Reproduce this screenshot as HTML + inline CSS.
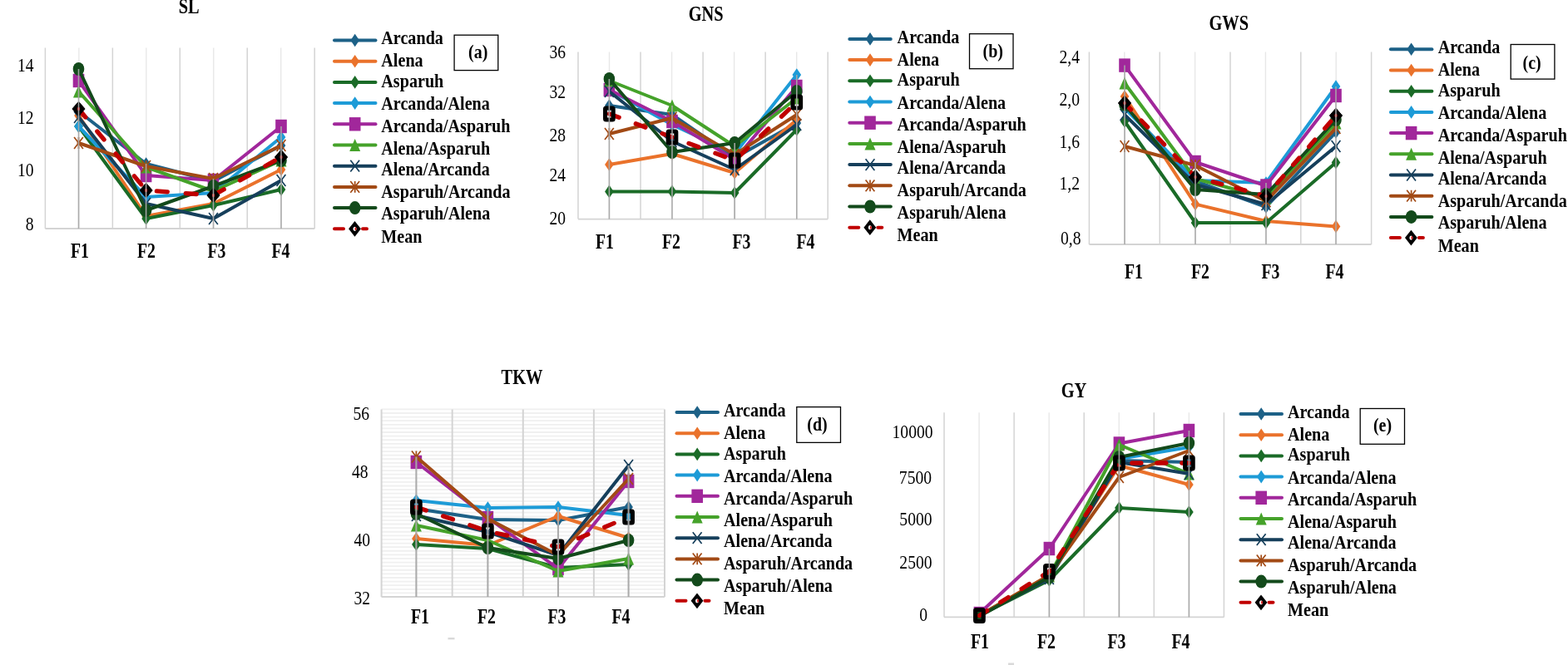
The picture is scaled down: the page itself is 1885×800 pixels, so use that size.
<!DOCTYPE html>
<html lang="en">
<head>
<meta charset="utf-8">
<title>Trait means by environment</title>
<style>
html,body{margin:0;padding:0;background:#fff;}
body{width:1885px;height:800px;overflow:hidden;font-family:"Liberation Serif",serif;}
svg{display:block;}
</style>
</head>
<body>
<svg width="1885" height="800" viewBox="0 0 1885 800" font-family="'Liberation Serif', serif">
<defs><filter id="soft" x="0" y="0" width="100%" height="100%" filterUnits="userSpaceOnUse" color-interpolation-filters="sRGB"><feGaussianBlur stdDeviation="0.55"/></filter></defs>
<rect width="1885" height="800" fill="#fff"/>
<g filter="url(#soft)">
<g>
<path d="M94.88 57.5V275M175.83 57.5V275M256.77 57.5V275M337.72 57.5V275" stroke="#e8e8e8" stroke-width="1.4" fill="none"/>
<path d="M54.4 57.5V275M135.35 57.5V275M216.3 57.5V275M297.25 57.5V275M378.2 57.5V275" stroke="#d4d4d4" stroke-width="1.5" fill="none"/>
<path d="M54.4 275H378.2" stroke="#d4d4d4" stroke-width="1.8" fill="none"/>
<polyline points="94.5,134 175.6,197 256.5,218 338,175" fill="none" stroke="#1d6187" stroke-width="4.0" stroke-linejoin="round" stroke-linecap="round"/>
<path d="M94.5 126.2L99.8 134L94.5 141.8L89.2 134Z" fill="#1d6187"/>
<path d="M175.6 189.2L180.9 197L175.6 204.8L170.3 197Z" fill="#1d6187"/>
<path d="M256.5 210.2L261.8 218L256.5 225.8L251.2 218Z" fill="#1d6187"/>
<path d="M338 167.2L343.3 175L338 182.8L332.7 175Z" fill="#1d6187"/>
<polyline points="94.5,139 175.6,260 256.5,245 338,204" fill="none" stroke="#ea722b" stroke-width="4.0" stroke-linejoin="round" stroke-linecap="round"/>
<path d="M94.5 131.2L99.8 139L94.5 146.8L89.2 139Z" fill="#ea722b"/>
<path d="M175.6 252.2L180.9 260L175.6 267.8L170.3 260Z" fill="#ea722b"/>
<path d="M256.5 237.2L261.8 245L256.5 252.8L251.2 245Z" fill="#ea722b"/>
<path d="M338 196.2L343.3 204L338 211.8L332.7 204Z" fill="#ea722b"/>
<polyline points="94.5,152 175.6,263 256.5,247 338,228" fill="none" stroke="#1a6b27" stroke-width="4.0" stroke-linejoin="round" stroke-linecap="round"/>
<path d="M94.5 144.2L99.8 152L94.5 159.8L89.2 152Z" fill="#1a6b27"/>
<path d="M175.6 255.2L180.9 263L175.6 270.8L170.3 263Z" fill="#1a6b27"/>
<path d="M256.5 239.2L261.8 247L256.5 254.8L251.2 247Z" fill="#1a6b27"/>
<path d="M338 220.2L343.3 228L338 235.8L332.7 228Z" fill="#1a6b27"/>
<polyline points="94.5,152 175.6,237 256.5,232 338,165" fill="none" stroke="#1d9bd7" stroke-width="4.0" stroke-linejoin="round" stroke-linecap="round"/>
<path d="M94.5 144.2L99.8 152L94.5 159.8L89.2 152Z" fill="#1d9bd7"/>
<path d="M175.6 229.2L180.9 237L175.6 244.8L170.3 237Z" fill="#1d9bd7"/>
<path d="M256.5 224.2L261.8 232L256.5 239.8L251.2 232Z" fill="#1d9bd7"/>
<path d="M338 157.2L343.3 165L338 172.8L332.7 165Z" fill="#1d9bd7"/>
<polyline points="94.5,97 175.6,211 256.5,217 338,152" fill="none" stroke="#a1279b" stroke-width="4.0" stroke-linejoin="round" stroke-linecap="round"/>
<rect x="87.7" y="88.8" width="13.6" height="16.4" fill="#a1279b"/>
<rect x="168.8" y="202.8" width="13.6" height="16.4" fill="#a1279b"/>
<rect x="249.7" y="208.8" width="13.6" height="16.4" fill="#a1279b"/>
<rect x="331.2" y="143.8" width="13.6" height="16.4" fill="#a1279b"/>
<polyline points="94.5,110 175.6,201 256.5,230 338,193" fill="none" stroke="#45a22a" stroke-width="4.0" stroke-linejoin="round" stroke-linecap="round"/>
<path d="M94.5 102.5L101 117.5L88 117.5Z" fill="#45a22a"/>
<path d="M175.6 193.5L182.1 208.5L169.1 208.5Z" fill="#45a22a"/>
<path d="M256.5 222.5L263 237.5L250 237.5Z" fill="#45a22a"/>
<path d="M338 185.5L344.5 200.5L331.5 200.5Z" fill="#45a22a"/>
<polyline points="94.5,141 175.6,245 256.5,263 338,217" fill="none" stroke="#163f5b" stroke-width="4.0" stroke-linejoin="round" stroke-linecap="round"/>
<path d="M89.1 134.1L99.9 147.9M99.9 134.1L89.1 147.9" stroke="#163f5b" stroke-width="1.7" fill="none"/>
<path d="M170.2 238.1L181 251.9M181 238.1L170.2 251.9" stroke="#163f5b" stroke-width="1.7" fill="none"/>
<path d="M251.1 256.1L261.9 269.9M261.9 256.1L251.1 269.9" stroke="#163f5b" stroke-width="1.7" fill="none"/>
<path d="M332.6 210.1L343.4 223.9M343.4 210.1L332.6 223.9" stroke="#163f5b" stroke-width="1.7" fill="none"/>
<polyline points="94.5,172 175.6,200 256.5,215 338,175" fill="none" stroke="#a24a15" stroke-width="4.0" stroke-linejoin="round" stroke-linecap="round"/>
<path d="M89.1 165.1L99.9 178.9M99.9 165.1L89.1 178.9M94.5 165.1L94.5 178.9" stroke="#a24a15" stroke-width="1.7" fill="none"/>
<path d="M170.2 193.1L181 206.9M181 193.1L170.2 206.9M175.6 193.1L175.6 206.9" stroke="#a24a15" stroke-width="1.7" fill="none"/>
<path d="M251.1 208.1L261.9 221.9M261.9 208.1L251.1 221.9M256.5 208.1L256.5 221.9" stroke="#a24a15" stroke-width="1.7" fill="none"/>
<path d="M332.6 168.1L343.4 181.9M343.4 168.1L332.6 181.9M338 168.1L338 181.9" stroke="#a24a15" stroke-width="1.7" fill="none"/>
<polyline points="94.5,83 175.6,253 256.5,224 338,193" fill="none" stroke="#134a1b" stroke-width="4.0" stroke-linejoin="round" stroke-linecap="round"/>
<ellipse cx="94.5" cy="83" rx="6.8" ry="8" fill="#134a1b"/>
<ellipse cx="175.6" cy="253" rx="6.8" ry="8" fill="#134a1b"/>
<ellipse cx="256.5" cy="224" rx="6.8" ry="8" fill="#134a1b"/>
<ellipse cx="338" cy="193" rx="6.8" ry="8" fill="#134a1b"/>
<polyline points="94.5,131 175.6,229 256.5,235 338,189" fill="none" stroke="#c00000" stroke-width="5.3" stroke-dasharray="13 22" stroke-linecap="round"/>
<path d="M94.5 122.2L102.1 131L94.5 139.8L86.9 131Z" fill="#000" stroke="#000" stroke-width="1" stroke-linejoin="round"/><ellipse cx="94.5" cy="131" rx="1.6" ry="2.2" fill="#d81818"/>
<path d="M175.6 220.2L183.2 229L175.6 237.8L168 229Z" fill="#000" stroke="#000" stroke-width="1" stroke-linejoin="round"/><ellipse cx="175.6" cy="229" rx="1.6" ry="2.2" fill="#d81818"/>
<path d="M256.5 226.2L264.1 235L256.5 243.8L248.9 235Z" fill="#000" stroke="#000" stroke-width="1" stroke-linejoin="round"/><ellipse cx="256.5" cy="235" rx="1.6" ry="2.2" fill="#d81818"/>
<path d="M338 180.2L345.6 189L338 197.8L330.4 189Z" fill="#000" stroke="#000" stroke-width="1" stroke-linejoin="round"/><ellipse cx="338" cy="189" rx="1.6" ry="2.2" fill="#d81818"/>
<path d="M94.5 83V275" stroke="#a8a8a8" stroke-width="1.6" fill="none" opacity="0.95"/>
<path d="M175.6 197V275" stroke="#a8a8a8" stroke-width="1.6" fill="none" opacity="0.95"/>
<path d="M256.5 215V275" stroke="#a8a8a8" stroke-width="1.6" fill="none" opacity="0.95"/>
<path d="M338 152V275" stroke="#a8a8a8" stroke-width="1.6" fill="none" opacity="0.95"/>
<text transform="translate(227.2 15.6) scale(1 1.2)" font-size="20.4" font-weight="bold" text-anchor="middle" fill="#000">SL</text>
<text transform="translate(40.5 86) scale(1 1.2)" font-size="19.6" text-anchor="end" fill="#000">14</text>
<text transform="translate(40.5 149) scale(1 1.2)" font-size="19.6" text-anchor="end" fill="#000">12</text>
<text transform="translate(40.5 212) scale(1 1.2)" font-size="19.6" text-anchor="end" fill="#000">10</text>
<text transform="translate(40.5 277) scale(1 1.2)" font-size="19.6" text-anchor="end" fill="#000">8</text>
<text transform="translate(96 310) scale(1 1.22)" font-size="19.8" font-weight="bold" text-anchor="middle" fill="#000">F1</text>
<text transform="translate(176 310) scale(1 1.22)" font-size="19.8" font-weight="bold" text-anchor="middle" fill="#000">F2</text>
<text transform="translate(260.5 310) scale(1 1.22)" font-size="19.8" font-weight="bold" text-anchor="middle" fill="#000">F3</text>
<text transform="translate(337.5 310) scale(1 1.22)" font-size="19.8" font-weight="bold" text-anchor="middle" fill="#000">F4</text>
<path d="M402 48.5H451.5" stroke="#1d6187" stroke-width="4.0" stroke-linecap="round" fill="none"/>
<path d="M426.7 40.7L432 48.5L426.7 56.3L421.4 48.5Z" fill="#1d6187"/>
<text transform="translate(458.3 53.2) scale(1 1.15)" font-size="20.15" font-weight="bold" fill="#000">Arcanda</text>
<path d="M402 73.7H451.5" stroke="#ea722b" stroke-width="4.0" stroke-linecap="round" fill="none"/>
<path d="M426.7 65.9L432 73.7L426.7 81.5L421.4 73.7Z" fill="#ea722b"/>
<text transform="translate(458.3 80.3) scale(1 1.15)" font-size="20.15" font-weight="bold" fill="#000">Alena</text>
<path d="M402 98.9H451.5" stroke="#1a6b27" stroke-width="4.0" stroke-linecap="round" fill="none"/>
<path d="M426.7 91.1L432 98.9L426.7 106.7L421.4 98.9Z" fill="#1a6b27"/>
<text transform="translate(458.3 104.9) scale(1 1.15)" font-size="20.15" font-weight="bold" fill="#000">Asparuh</text>
<path d="M402 124.1H451.5" stroke="#1d9bd7" stroke-width="4.0" stroke-linecap="round" fill="none"/>
<path d="M426.7 116.3L432 124.1L426.7 131.9L421.4 124.1Z" fill="#1d9bd7"/>
<text transform="translate(458.3 132.2) scale(1 1.15)" font-size="20.15" font-weight="bold" fill="#000">Arcanda/Alena</text>
<path d="M402 149.3H451.5" stroke="#a1279b" stroke-width="4.0" stroke-linecap="round" fill="none"/>
<rect x="419.9" y="141.1" width="13.6" height="16.4" fill="#a1279b"/>
<text transform="translate(458.3 158.8) scale(1 1.15)" font-size="20.15" font-weight="bold" fill="#000">Arcanda/Asparuh</text>
<path d="M402 174.5H451.5" stroke="#45a22a" stroke-width="4.0" stroke-linecap="round" fill="none"/>
<path d="M426.7 167L433.2 182L420.2 182Z" fill="#45a22a"/>
<text transform="translate(458.3 185.5) scale(1 1.15)" font-size="20.15" font-weight="bold" fill="#000">Alena/Asparuh</text>
<path d="M402 199.7H451.5" stroke="#163f5b" stroke-width="4.0" stroke-linecap="round" fill="none"/>
<path d="M421.3 192.8L432.1 206.6M432.1 192.8L421.3 206.6" stroke="#163f5b" stroke-width="1.7" fill="none"/>
<text transform="translate(458.3 210.6) scale(1 1.15)" font-size="20.15" font-weight="bold" fill="#000">Alena/Arcanda</text>
<path d="M402 224.9H451.5" stroke="#a24a15" stroke-width="4.0" stroke-linecap="round" fill="none"/>
<path d="M421.3 218L432.1 231.8M432.1 218L421.3 231.8M426.7 218L426.7 231.8" stroke="#a24a15" stroke-width="1.7" fill="none"/>
<text transform="translate(458.3 237.5) scale(1 1.15)" font-size="20.15" font-weight="bold" fill="#000">Asparuh/Arcanda</text>
<path d="M402 250.1H451.5" stroke="#134a1b" stroke-width="4.0" stroke-linecap="round" fill="none"/>
<ellipse cx="426.7" cy="250.1" rx="6.8" ry="8" fill="#134a1b"/>
<text transform="translate(458.3 264.3) scale(1 1.15)" font-size="20.15" font-weight="bold" fill="#000">Asparuh/Alena</text>
<path d="M402 275.3H413M436 275.3H441" stroke="#c00000" stroke-width="4" stroke-linecap="round" fill="none"/>
<path d="M426.5 265.9L433.9 275.3L426.5 284.7L419.1 275.3Z" fill="#000"/>
<ellipse cx="426.5" cy="275.3" rx="2" ry="2.6" fill="#fff"/>
<ellipse cx="427.5" cy="275.3" rx="1" ry="2" fill="#d81818"/>
<text transform="translate(458.3 291.5) scale(1 1.15)" font-size="20.15" font-weight="bold" fill="#000">Mean</text>
<rect x="546.1" y="42.2" width="52.7" height="42.4" fill="#fff" stroke="#000" stroke-width="1.3"/>
<text transform="translate(574.7 69.5) scale(1 1.15)" font-size="20" font-weight="bold" text-anchor="middle" fill="#000">(a)</text>
</g>
<g>
<path d="M732.52 62.4V263.6M807.58 62.4V263.6M882.62 62.4V263.6M957.68 62.4V263.6" stroke="#e8e8e8" stroke-width="1.4" fill="none"/>
<path d="M695 62.4V263.6M770.05 62.4V263.6M845.1 62.4V263.6M920.15 62.4V263.6M995.2 62.4V263.6" stroke="#d4d4d4" stroke-width="1.5" fill="none"/>
<path d="M695 263.6H995.2" stroke="#d4d4d4" stroke-width="1.8" fill="none"/>
<polyline points="732.4,127 808,138 883.2,190 957.8,148" fill="none" stroke="#1d6187" stroke-width="4.0" stroke-linejoin="round" stroke-linecap="round"/>
<path d="M732.4 119.2L737.7 127L732.4 134.8L727.1 127Z" fill="#1d6187"/>
<path d="M808 130.2L813.3 138L808 145.8L802.7 138Z" fill="#1d6187"/>
<path d="M883.2 182.2L888.5 190L883.2 197.8L877.9 190Z" fill="#1d6187"/>
<path d="M957.8 140.2L963.1 148L957.8 155.8L952.5 148Z" fill="#1d6187"/>
<polyline points="732.4,198 808,185 883.2,208 957.8,144" fill="none" stroke="#ea722b" stroke-width="4.0" stroke-linejoin="round" stroke-linecap="round"/>
<path d="M732.4 190.2L737.7 198L732.4 205.8L727.1 198Z" fill="#ea722b"/>
<path d="M808 177.2L813.3 185L808 192.8L802.7 185Z" fill="#ea722b"/>
<path d="M883.2 200.2L888.5 208L883.2 215.8L877.9 208Z" fill="#ea722b"/>
<path d="M957.8 136.2L963.1 144L957.8 151.8L952.5 144Z" fill="#ea722b"/>
<polyline points="732.4,230.4 808,230.4 883.2,232 957.8,156" fill="none" stroke="#1a6b27" stroke-width="4.0" stroke-linejoin="round" stroke-linecap="round"/>
<path d="M732.4 222.6L737.7 230.4L732.4 238.2L727.1 230.4Z" fill="#1a6b27"/>
<path d="M808 222.6L813.3 230.4L808 238.2L802.7 230.4Z" fill="#1a6b27"/>
<path d="M883.2 224.2L888.5 232L883.2 239.8L877.9 232Z" fill="#1a6b27"/>
<path d="M957.8 148.2L963.1 156L957.8 163.8L952.5 156Z" fill="#1a6b27"/>
<polyline points="732.4,108 808,150 883.2,185 957.8,90" fill="none" stroke="#1d9bd7" stroke-width="4.0" stroke-linejoin="round" stroke-linecap="round"/>
<path d="M732.4 100.2L737.7 108L732.4 115.8L727.1 108Z" fill="#1d9bd7"/>
<path d="M808 142.2L813.3 150L808 157.8L802.7 150Z" fill="#1d9bd7"/>
<path d="M883.2 177.2L888.5 185L883.2 192.8L877.9 185Z" fill="#1d9bd7"/>
<path d="M957.8 82.2L963.1 90L957.8 97.8L952.5 90Z" fill="#1d9bd7"/>
<polyline points="732.4,108 808,146 883.2,192 957.8,104" fill="none" stroke="#a1279b" stroke-width="4.0" stroke-linejoin="round" stroke-linecap="round"/>
<rect x="725.6" y="99.8" width="13.6" height="16.4" fill="#a1279b"/>
<rect x="801.2" y="137.8" width="13.6" height="16.4" fill="#a1279b"/>
<rect x="876.4" y="183.8" width="13.6" height="16.4" fill="#a1279b"/>
<rect x="951" y="95.8" width="13.6" height="16.4" fill="#a1279b"/>
<polyline points="732.4,97 808,127 883.2,176 957.8,118" fill="none" stroke="#45a22a" stroke-width="4.0" stroke-linejoin="round" stroke-linecap="round"/>
<path d="M732.4 89.5L738.9 104.5L725.9 104.5Z" fill="#45a22a"/>
<path d="M808 119.5L814.5 134.5L801.5 134.5Z" fill="#45a22a"/>
<path d="M883.2 168.5L889.7 183.5L876.7 183.5Z" fill="#45a22a"/>
<path d="M957.8 110.5L964.3 125.5L951.3 125.5Z" fill="#45a22a"/>
<polyline points="732.4,110 808,170 883.2,204 957.8,150" fill="none" stroke="#163f5b" stroke-width="4.0" stroke-linejoin="round" stroke-linecap="round"/>
<path d="M727 103.1L737.8 116.9M737.8 103.1L727 116.9" stroke="#163f5b" stroke-width="1.7" fill="none"/>
<path d="M802.6 163.1L813.4 176.9M813.4 163.1L802.6 176.9" stroke="#163f5b" stroke-width="1.7" fill="none"/>
<path d="M877.8 197.1L888.6 210.9M888.6 197.1L877.8 210.9" stroke="#163f5b" stroke-width="1.7" fill="none"/>
<path d="M952.4 143.1L963.2 156.9M963.2 143.1L952.4 156.9" stroke="#163f5b" stroke-width="1.7" fill="none"/>
<polyline points="732.4,161 808,142 883.2,186 957.8,138" fill="none" stroke="#a24a15" stroke-width="4.0" stroke-linejoin="round" stroke-linecap="round"/>
<path d="M727 154.1L737.8 167.9M737.8 154.1L727 167.9M732.4 154.1L732.4 167.9" stroke="#a24a15" stroke-width="1.7" fill="none"/>
<path d="M802.6 135.1L813.4 148.9M813.4 135.1L802.6 148.9M808 135.1L808 148.9" stroke="#a24a15" stroke-width="1.7" fill="none"/>
<path d="M877.8 179.1L888.6 192.9M888.6 179.1L877.8 192.9M883.2 179.1L883.2 192.9" stroke="#a24a15" stroke-width="1.7" fill="none"/>
<path d="M952.4 131.1L963.2 144.9M963.2 131.1L952.4 144.9M957.8 131.1L957.8 144.9" stroke="#a24a15" stroke-width="1.7" fill="none"/>
<polyline points="732.4,95 808,183 883.2,172 957.8,110" fill="none" stroke="#134a1b" stroke-width="4.0" stroke-linejoin="round" stroke-linecap="round"/>
<ellipse cx="732.4" cy="95" rx="6.8" ry="8" fill="#134a1b"/>
<ellipse cx="808" cy="183" rx="6.8" ry="8" fill="#134a1b"/>
<ellipse cx="883.2" cy="172" rx="6.8" ry="8" fill="#134a1b"/>
<ellipse cx="957.8" cy="110" rx="6.8" ry="8" fill="#134a1b"/>
<polyline points="732.4,137 808,165 883.2,193 957.8,123" fill="none" stroke="#c00000" stroke-width="5.3" stroke-dasharray="12.5 21.5" stroke-linecap="round"/>
<rect x="727.6" y="130" width="9.6" height="14" rx="1" fill="none" stroke="#000" stroke-width="5.1"/>
<rect x="803.2" y="158" width="9.6" height="14" rx="1" fill="none" stroke="#000" stroke-width="5.1"/>
<rect x="878.4" y="186" width="9.6" height="14" rx="1" fill="none" stroke="#000" stroke-width="5.1"/>
<rect x="953" y="116" width="9.6" height="14" rx="1" fill="none" stroke="#000" stroke-width="5.1"/>
<path d="M732.4 95V263.6" stroke="#a8a8a8" stroke-width="1.6" fill="none" opacity="0.95"/>
<path d="M808 127V263.6" stroke="#a8a8a8" stroke-width="1.6" fill="none" opacity="0.95"/>
<path d="M883.2 172V263.6" stroke="#a8a8a8" stroke-width="1.6" fill="none" opacity="0.95"/>
<path d="M957.8 90V263.6" stroke="#a8a8a8" stroke-width="1.6" fill="none" opacity="0.95"/>
<text transform="translate(848.7 25) scale(1 1.2)" font-size="20.4" font-weight="bold" text-anchor="middle" fill="#000">GNS</text>
<text transform="translate(680 70) scale(1 1.2)" font-size="19.6" text-anchor="end" fill="#000">36</text>
<text transform="translate(680 118.2) scale(1 1.2)" font-size="19.6" text-anchor="end" fill="#000">32</text>
<text transform="translate(680 170) scale(1 1.2)" font-size="19.6" text-anchor="end" fill="#000">28</text>
<text transform="translate(680 218) scale(1 1.2)" font-size="19.6" text-anchor="end" fill="#000">24</text>
<text transform="translate(680 270) scale(1 1.2)" font-size="19.6" text-anchor="end" fill="#000">20</text>
<text transform="translate(727 299) scale(1 1.22)" font-size="19.8" font-weight="bold" text-anchor="middle" fill="#000">F1</text>
<text transform="translate(807 299) scale(1 1.22)" font-size="19.8" font-weight="bold" text-anchor="middle" fill="#000">F2</text>
<text transform="translate(891.5 299) scale(1 1.22)" font-size="19.8" font-weight="bold" text-anchor="middle" fill="#000">F3</text>
<text transform="translate(968.5 299) scale(1 1.22)" font-size="19.8" font-weight="bold" text-anchor="middle" fill="#000">F4</text>
<path d="M1021.3 46.9H1070.8" stroke="#1d6187" stroke-width="4.0" stroke-linecap="round" fill="none"/>
<path d="M1046 39.1L1051.3 46.9L1046 54.7L1040.7 46.9Z" fill="#1d6187"/>
<text transform="translate(1078.6 51.7) scale(1 1.15)" font-size="20.15" font-weight="bold" fill="#000">Arcanda</text>
<path d="M1021.3 72.1H1070.8" stroke="#ea722b" stroke-width="4.0" stroke-linecap="round" fill="none"/>
<path d="M1046 64.3L1051.3 72.1L1046 79.9L1040.7 72.1Z" fill="#ea722b"/>
<text transform="translate(1078.6 78.8) scale(1 1.15)" font-size="20.15" font-weight="bold" fill="#000">Alena</text>
<path d="M1021.3 97.3H1070.8" stroke="#1a6b27" stroke-width="4.0" stroke-linecap="round" fill="none"/>
<path d="M1046 89.5L1051.3 97.3L1046 105.1L1040.7 97.3Z" fill="#1a6b27"/>
<text transform="translate(1078.6 103.4) scale(1 1.15)" font-size="20.15" font-weight="bold" fill="#000">Asparuh</text>
<path d="M1021.3 122.5H1070.8" stroke="#1d9bd7" stroke-width="4.0" stroke-linecap="round" fill="none"/>
<path d="M1046 114.7L1051.3 122.5L1046 130.3L1040.7 122.5Z" fill="#1d9bd7"/>
<text transform="translate(1078.6 130.7) scale(1 1.15)" font-size="20.15" font-weight="bold" fill="#000">Arcanda/Alena</text>
<path d="M1021.3 147.7H1070.8" stroke="#a1279b" stroke-width="4.0" stroke-linecap="round" fill="none"/>
<rect x="1039.2" y="139.5" width="13.6" height="16.4" fill="#a1279b"/>
<text transform="translate(1078.6 157.3) scale(1 1.15)" font-size="20.15" font-weight="bold" fill="#000">Arcanda/Asparuh</text>
<path d="M1021.3 172.9H1070.8" stroke="#45a22a" stroke-width="4.0" stroke-linecap="round" fill="none"/>
<path d="M1046 165.4L1052.5 180.4L1039.5 180.4Z" fill="#45a22a"/>
<text transform="translate(1078.6 184) scale(1 1.15)" font-size="20.15" font-weight="bold" fill="#000">Alena/Asparuh</text>
<path d="M1021.3 198.1H1070.8" stroke="#163f5b" stroke-width="4.0" stroke-linecap="round" fill="none"/>
<path d="M1040.6 191.2L1051.4 205M1051.4 191.2L1040.6 205" stroke="#163f5b" stroke-width="1.7" fill="none"/>
<text transform="translate(1078.6 209.1) scale(1 1.15)" font-size="20.15" font-weight="bold" fill="#000">Alena/Arcanda</text>
<path d="M1021.3 223.3H1070.8" stroke="#a24a15" stroke-width="4.0" stroke-linecap="round" fill="none"/>
<path d="M1040.6 216.4L1051.4 230.2M1051.4 216.4L1040.6 230.2M1046 216.4L1046 230.2" stroke="#a24a15" stroke-width="1.7" fill="none"/>
<text transform="translate(1078.6 236) scale(1 1.15)" font-size="20.15" font-weight="bold" fill="#000">Asparuh/Arcanda</text>
<path d="M1021.3 248.5H1070.8" stroke="#134a1b" stroke-width="4.0" stroke-linecap="round" fill="none"/>
<ellipse cx="1046" cy="248.5" rx="6.8" ry="8" fill="#134a1b"/>
<text transform="translate(1078.6 262.8) scale(1 1.15)" font-size="20.15" font-weight="bold" fill="#000">Asparuh/Alena</text>
<path d="M1021.3 273.7H1032.3M1055.3 273.7H1060.3" stroke="#c00000" stroke-width="4" stroke-linecap="round" fill="none"/>
<path d="M1045.8 264.3L1053.2 273.7L1045.8 283.1L1038.4 273.7Z" fill="#000"/>
<ellipse cx="1045.8" cy="273.7" rx="2" ry="2.6" fill="#fff"/>
<ellipse cx="1046.8" cy="273.7" rx="1" ry="2" fill="#d81818"/>
<text transform="translate(1078.6 290) scale(1 1.15)" font-size="20.15" font-weight="bold" fill="#000">Mean</text>
<rect x="1165.5" y="40.7" width="52.5" height="42" fill="#fff" stroke="#000" stroke-width="1.3"/>
<text transform="translate(1193.8 68.9) scale(1 1.15)" font-size="20" font-weight="bold" text-anchor="middle" fill="#000">(b)</text>
</g>
<g>
<path d="M1351.8 62.4V294M1436.6 62.4V294M1521.4 62.4V294M1606.2 62.4V294" stroke="#e8e8e8" stroke-width="1.4" fill="none"/>
<path d="M1309.4 62.4V294M1394.2 62.4V294M1479 62.4V294M1563.8 62.4V294M1648.6 62.4V294" stroke="#d4d4d4" stroke-width="1.5" fill="none"/>
<path d="M1309.4 294H1648.6" stroke="#d4d4d4" stroke-width="1.8" fill="none"/>
<polyline points="1352,128 1437,218 1522,249 1606,159" fill="none" stroke="#1d6187" stroke-width="4.0" stroke-linejoin="round" stroke-linecap="round"/>
<path d="M1352 120.2L1357.3 128L1352 135.8L1346.7 128Z" fill="#1d6187"/>
<path d="M1437 210.2L1442.3 218L1437 225.8L1431.7 218Z" fill="#1d6187"/>
<path d="M1522 241.2L1527.3 249L1522 256.8L1516.7 249Z" fill="#1d6187"/>
<path d="M1606 151.2L1611.3 159L1606 166.8L1600.7 159Z" fill="#1d6187"/>
<polyline points="1352,116 1437,245.6 1522,266 1606,272.4" fill="none" stroke="#ea722b" stroke-width="4.0" stroke-linejoin="round" stroke-linecap="round"/>
<path d="M1352 108.2L1357.3 116L1352 123.8L1346.7 116Z" fill="#ea722b"/>
<path d="M1437 237.8L1442.3 245.6L1437 253.4L1431.7 245.6Z" fill="#ea722b"/>
<path d="M1522 258.2L1527.3 266L1522 273.8L1516.7 266Z" fill="#ea722b"/>
<path d="M1606 264.6L1611.3 272.4L1606 280.2L1600.7 272.4Z" fill="#ea722b"/>
<polyline points="1352,146 1437,268 1522,268 1606,195.6" fill="none" stroke="#1a6b27" stroke-width="4.0" stroke-linejoin="round" stroke-linecap="round"/>
<path d="M1352 138.2L1357.3 146L1352 153.8L1346.7 146Z" fill="#1a6b27"/>
<path d="M1437 260.2L1442.3 268L1437 275.8L1431.7 268Z" fill="#1a6b27"/>
<path d="M1522 260.2L1527.3 268L1522 275.8L1516.7 268Z" fill="#1a6b27"/>
<path d="M1606 187.8L1611.3 195.6L1606 203.4L1600.7 195.6Z" fill="#1a6b27"/>
<polyline points="1352,130 1437,217 1522,220 1606,104" fill="none" stroke="#1d9bd7" stroke-width="4.0" stroke-linejoin="round" stroke-linecap="round"/>
<path d="M1352 122.2L1357.3 130L1352 137.8L1346.7 130Z" fill="#1d9bd7"/>
<path d="M1437 209.2L1442.3 217L1437 224.8L1431.7 217Z" fill="#1d9bd7"/>
<path d="M1522 212.2L1527.3 220L1522 227.8L1516.7 220Z" fill="#1d9bd7"/>
<path d="M1606 96.2L1611.3 104L1606 111.8L1600.7 104Z" fill="#1d9bd7"/>
<polyline points="1352,78.6 1437,195 1522,223.5 1606,115" fill="none" stroke="#a1279b" stroke-width="4.0" stroke-linejoin="round" stroke-linecap="round"/>
<rect x="1345.2" y="70.4" width="13.6" height="16.4" fill="#a1279b"/>
<rect x="1430.2" y="186.8" width="13.6" height="16.4" fill="#a1279b"/>
<rect x="1515.2" y="215.3" width="13.6" height="16.4" fill="#a1279b"/>
<rect x="1599.2" y="106.8" width="13.6" height="16.4" fill="#a1279b"/>
<polyline points="1352,100 1437,215 1522,238 1606,148" fill="none" stroke="#45a22a" stroke-width="4.0" stroke-linejoin="round" stroke-linecap="round"/>
<path d="M1352 92.5L1358.5 107.5L1345.5 107.5Z" fill="#45a22a"/>
<path d="M1437 207.5L1443.5 222.5L1430.5 222.5Z" fill="#45a22a"/>
<path d="M1522 230.5L1528.5 245.5L1515.5 245.5Z" fill="#45a22a"/>
<path d="M1606 140.5L1612.5 155.5L1599.5 155.5Z" fill="#45a22a"/>
<polyline points="1352,138 1437,222 1522,246 1606,176" fill="none" stroke="#163f5b" stroke-width="4.0" stroke-linejoin="round" stroke-linecap="round"/>
<path d="M1346.6 131.1L1357.4 144.9M1357.4 131.1L1346.6 144.9" stroke="#163f5b" stroke-width="1.7" fill="none"/>
<path d="M1431.6 215.1L1442.4 228.9M1442.4 215.1L1431.6 228.9" stroke="#163f5b" stroke-width="1.7" fill="none"/>
<path d="M1516.6 239.1L1527.4 252.9M1527.4 239.1L1516.6 252.9" stroke="#163f5b" stroke-width="1.7" fill="none"/>
<path d="M1600.6 169.1L1611.4 182.9M1611.4 169.1L1600.6 182.9" stroke="#163f5b" stroke-width="1.7" fill="none"/>
<polyline points="1352,176 1437,199 1522,242 1606,154" fill="none" stroke="#a24a15" stroke-width="4.0" stroke-linejoin="round" stroke-linecap="round"/>
<path d="M1346.6 169.1L1357.4 182.9M1357.4 169.1L1346.6 182.9M1352 169.1L1352 182.9" stroke="#a24a15" stroke-width="1.7" fill="none"/>
<path d="M1431.6 192.1L1442.4 205.9M1442.4 192.1L1431.6 205.9M1437 192.1L1437 205.9" stroke="#a24a15" stroke-width="1.7" fill="none"/>
<path d="M1516.6 235.1L1527.4 248.9M1527.4 235.1L1516.6 248.9M1522 235.1L1522 248.9" stroke="#a24a15" stroke-width="1.7" fill="none"/>
<path d="M1600.6 147.1L1611.4 160.9M1611.4 147.1L1600.6 160.9M1606 147.1L1606 160.9" stroke="#a24a15" stroke-width="1.7" fill="none"/>
<polyline points="1352,126 1437,228 1522,234 1606,144" fill="none" stroke="#134a1b" stroke-width="4.0" stroke-linejoin="round" stroke-linecap="round"/>
<ellipse cx="1352" cy="126" rx="6.8" ry="8" fill="#134a1b"/>
<ellipse cx="1437" cy="228" rx="6.8" ry="8" fill="#134a1b"/>
<ellipse cx="1522" cy="234" rx="6.8" ry="8" fill="#134a1b"/>
<ellipse cx="1606" cy="144" rx="6.8" ry="8" fill="#134a1b"/>
<polyline points="1352,124 1437,213 1522,236 1606,139" fill="none" stroke="#c00000" stroke-width="5.3" stroke-dasharray="11 18" stroke-linecap="round"/>
<path d="M1352 115.2L1359.6 124L1352 132.8L1344.4 124Z" fill="#000" stroke="#000" stroke-width="1" stroke-linejoin="round"/><ellipse cx="1352" cy="124" rx="1.6" ry="2.2" fill="#d81818"/>
<path d="M1437 204.2L1444.6 213L1437 221.8L1429.4 213Z" fill="#000" stroke="#000" stroke-width="1" stroke-linejoin="round"/><ellipse cx="1437" cy="213" rx="1.6" ry="2.2" fill="#d81818"/>
<path d="M1522 227.2L1529.6 236L1522 244.8L1514.4 236Z" fill="#000" stroke="#000" stroke-width="1" stroke-linejoin="round"/><ellipse cx="1522" cy="236" rx="1.6" ry="2.2" fill="#d81818"/>
<path d="M1606 130.2L1613.6 139L1606 147.8L1598.4 139Z" fill="#000" stroke="#000" stroke-width="1" stroke-linejoin="round"/><ellipse cx="1606" cy="139" rx="1.6" ry="2.2" fill="#d81818"/>
<path d="M1352 78.6V294" stroke="#a8a8a8" stroke-width="1.6" fill="none" opacity="0.95"/>
<path d="M1437 195V294" stroke="#a8a8a8" stroke-width="1.6" fill="none" opacity="0.95"/>
<path d="M1522 220V294" stroke="#a8a8a8" stroke-width="1.6" fill="none" opacity="0.95"/>
<path d="M1606 104V294" stroke="#a8a8a8" stroke-width="1.6" fill="none" opacity="0.95"/>
<text transform="translate(1477.2 36.1) scale(1 1.2)" font-size="20.4" font-weight="bold" text-anchor="middle" fill="#000">GWS</text>
<text transform="translate(1298 76) scale(1 1.2)" font-size="19.6" text-anchor="end" fill="#000">2,4</text>
<text transform="translate(1298 127) scale(1 1.2)" font-size="19.6" text-anchor="end" fill="#000">2,0</text>
<text transform="translate(1298 178) scale(1 1.2)" font-size="19.6" text-anchor="end" fill="#000">1,6</text>
<text transform="translate(1298 228) scale(1 1.2)" font-size="19.6" text-anchor="end" fill="#000">1,2</text>
<text transform="translate(1299.5 294) scale(1 1.2)" font-size="19.6" text-anchor="end" fill="#000">0,8</text>
<text transform="translate(1363 335) scale(1 1.22)" font-size="19.8" font-weight="bold" text-anchor="middle" fill="#000">F1</text>
<text transform="translate(1443 335) scale(1 1.22)" font-size="19.8" font-weight="bold" text-anchor="middle" fill="#000">F2</text>
<text transform="translate(1527.5 335) scale(1 1.22)" font-size="19.8" font-weight="bold" text-anchor="middle" fill="#000">F3</text>
<text transform="translate(1604.5 335) scale(1 1.22)" font-size="19.8" font-weight="bold" text-anchor="middle" fill="#000">F4</text>
<path d="M1671.9 59.3H1721.4" stroke="#1d6187" stroke-width="4.0" stroke-linecap="round" fill="none"/>
<path d="M1696.6 51.5L1701.9 59.3L1696.6 67.1L1691.3 59.3Z" fill="#1d6187"/>
<text transform="translate(1728.65 64.35) scale(1 1.15)" font-size="20.15" font-weight="bold" fill="#000">Arcanda</text>
<path d="M1671.9 84.5H1721.4" stroke="#ea722b" stroke-width="4.0" stroke-linecap="round" fill="none"/>
<path d="M1696.6 76.7L1701.9 84.5L1696.6 92.3L1691.3 84.5Z" fill="#ea722b"/>
<text transform="translate(1728.65 91.45) scale(1 1.15)" font-size="20.15" font-weight="bold" fill="#000">Alena</text>
<path d="M1671.9 109.7H1721.4" stroke="#1a6b27" stroke-width="4.0" stroke-linecap="round" fill="none"/>
<path d="M1696.6 101.9L1701.9 109.7L1696.6 117.5L1691.3 109.7Z" fill="#1a6b27"/>
<text transform="translate(1728.65 116.05) scale(1 1.15)" font-size="20.15" font-weight="bold" fill="#000">Asparuh</text>
<path d="M1671.9 134.9H1721.4" stroke="#1d9bd7" stroke-width="4.0" stroke-linecap="round" fill="none"/>
<path d="M1696.6 127.1L1701.9 134.9L1696.6 142.7L1691.3 134.9Z" fill="#1d9bd7"/>
<text transform="translate(1728.65 143.35) scale(1 1.15)" font-size="20.15" font-weight="bold" fill="#000">Arcanda/Alena</text>
<path d="M1671.9 160.1H1721.4" stroke="#a1279b" stroke-width="4.0" stroke-linecap="round" fill="none"/>
<rect x="1689.8" y="151.9" width="13.6" height="16.4" fill="#a1279b"/>
<text transform="translate(1728.65 169.95) scale(1 1.15)" font-size="20.15" font-weight="bold" fill="#000">Arcanda/Asparuh</text>
<path d="M1671.9 185.3H1721.4" stroke="#45a22a" stroke-width="4.0" stroke-linecap="round" fill="none"/>
<path d="M1696.6 177.8L1703.1 192.8L1690.1 192.8Z" fill="#45a22a"/>
<text transform="translate(1728.65 196.65) scale(1 1.15)" font-size="20.15" font-weight="bold" fill="#000">Alena/Asparuh</text>
<path d="M1671.9 210.5H1721.4" stroke="#163f5b" stroke-width="4.0" stroke-linecap="round" fill="none"/>
<path d="M1691.2 203.6L1702 217.4M1702 203.6L1691.2 217.4" stroke="#163f5b" stroke-width="1.7" fill="none"/>
<text transform="translate(1728.65 221.75) scale(1 1.15)" font-size="20.15" font-weight="bold" fill="#000">Alena/Arcanda</text>
<path d="M1671.9 235.7H1721.4" stroke="#a24a15" stroke-width="4.0" stroke-linecap="round" fill="none"/>
<path d="M1691.2 228.8L1702 242.6M1702 228.8L1691.2 242.6M1696.6 228.8L1696.6 242.6" stroke="#a24a15" stroke-width="1.7" fill="none"/>
<text transform="translate(1728.65 248.65) scale(1 1.15)" font-size="20.15" font-weight="bold" fill="#000">Asparuh/Arcanda</text>
<path d="M1671.9 260.9H1721.4" stroke="#134a1b" stroke-width="4.0" stroke-linecap="round" fill="none"/>
<ellipse cx="1696.6" cy="260.9" rx="6.8" ry="8" fill="#134a1b"/>
<text transform="translate(1728.65 275.45) scale(1 1.15)" font-size="20.15" font-weight="bold" fill="#000">Asparuh/Alena</text>
<path d="M1671.9 286.1H1682.9M1705.9 286.1H1710.9" stroke="#c00000" stroke-width="4" stroke-linecap="round" fill="none"/>
<path d="M1696.4 276.7L1703.8 286.1L1696.4 295.5L1689 286.1Z" fill="#000"/>
<ellipse cx="1696.4" cy="286.1" rx="2" ry="2.6" fill="#fff"/>
<ellipse cx="1697.4" cy="286.1" rx="1" ry="2" fill="#d81818"/>
<text transform="translate(1728.65 302.65) scale(1 1.15)" font-size="20.15" font-weight="bold" fill="#000">Mean</text>
<rect x="1816.2" y="53.5" width="52.7" height="41.6" fill="#fff" stroke="#000" stroke-width="1.3"/>
<text transform="translate(1841.6 83) scale(1 1.15)" font-size="20" font-weight="bold" text-anchor="middle" fill="#000">(c)</text>
</g>
<g>
<path d="M458.6 492.4H799M458.6 497H799M458.6 501.61H799M458.6 506.21H799M458.6 510.82H799M458.6 515.42H799M458.6 520.02H799M458.6 524.63H799M458.6 529.23H799M458.6 533.84H799M458.6 538.44H799M458.6 543.04H799M458.6 547.65H799M458.6 552.25H799M458.6 556.86H799M458.6 561.46H799M458.6 566.07H799M458.6 570.67H799M458.6 575.27H799M458.6 579.88H799M458.6 584.48H799M458.6 589.09H799M458.6 593.69H799M458.6 598.29H799M458.6 602.9H799M458.6 607.5H799M458.6 612.11H799M458.6 616.71H799M458.6 621.31H799M458.6 625.92H799M458.6 630.52H799M458.6 635.13H799M458.6 639.73H799M458.6 644.33H799M458.6 648.94H799M458.6 653.54H799M458.6 658.15H799M458.6 662.75H799M458.6 667.36H799M458.6 671.96H799M458.6 676.56H799M458.6 681.17H799M458.6 685.77H799M458.6 690.38H799M458.6 694.98H799M458.6 699.58H799M458.6 704.19H799M458.6 708.79H799M458.6 713.4H799M458.6 718H799" stroke="#f0f0f0" stroke-width="1.8" fill="none"/>
<path d="M458.6 492.4V718M543.7 492.4V718M628.8 492.4V718M713.9 492.4V718M799 492.4V718" stroke="#d4d4d4" stroke-width="2.0" fill="none"/>
<path d="M458.6 718H799" stroke="#d4d4d4" stroke-width="1.8" fill="none"/>
<polyline points="500.4,612 586.4,625 671,626 755.6,610" fill="none" stroke="#1d6187" stroke-width="4.0" stroke-linejoin="round" stroke-linecap="round"/>
<path d="M500.4 604.2L505.7 612L500.4 619.8L495.1 612Z" fill="#1d6187"/>
<path d="M586.4 617.2L591.7 625L586.4 632.8L581.1 625Z" fill="#1d6187"/>
<path d="M671 618.2L676.3 626L671 633.8L665.7 626Z" fill="#1d6187"/>
<path d="M755.6 602.2L760.9 610L755.6 617.8L750.3 610Z" fill="#1d6187"/>
<polyline points="500.4,648 586.4,656 671,621 755.6,647" fill="none" stroke="#ea722b" stroke-width="4.0" stroke-linejoin="round" stroke-linecap="round"/>
<path d="M500.4 640.2L505.7 648L500.4 655.8L495.1 648Z" fill="#ea722b"/>
<path d="M586.4 648.2L591.7 656L586.4 663.8L581.1 656Z" fill="#ea722b"/>
<path d="M671 613.2L676.3 621L671 628.8L665.7 621Z" fill="#ea722b"/>
<path d="M755.6 639.2L760.9 647L755.6 654.8L750.3 647Z" fill="#ea722b"/>
<polyline points="500.4,655 586.4,660 671,683 755.6,679" fill="none" stroke="#1a6b27" stroke-width="4.0" stroke-linejoin="round" stroke-linecap="round"/>
<path d="M500.4 647.2L505.7 655L500.4 662.8L495.1 655Z" fill="#1a6b27"/>
<path d="M586.4 652.2L591.7 660L586.4 667.8L581.1 660Z" fill="#1a6b27"/>
<path d="M671 675.2L676.3 683L671 690.8L665.7 683Z" fill="#1a6b27"/>
<path d="M755.6 671.2L760.9 679L755.6 686.8L750.3 679Z" fill="#1a6b27"/>
<polyline points="500.4,602 586.4,611 671,610 755.6,620" fill="none" stroke="#1d9bd7" stroke-width="4.0" stroke-linejoin="round" stroke-linecap="round"/>
<path d="M500.4 594.2L505.7 602L500.4 609.8L495.1 602Z" fill="#1d9bd7"/>
<path d="M586.4 603.2L591.7 611L586.4 618.8L581.1 611Z" fill="#1d9bd7"/>
<path d="M671 602.2L676.3 610L671 617.8L665.7 610Z" fill="#1d9bd7"/>
<path d="M755.6 612.2L760.9 620L755.6 627.8L750.3 620Z" fill="#1d9bd7"/>
<polyline points="500.4,556 586.4,623 671,684 755.6,579" fill="none" stroke="#a1279b" stroke-width="4.0" stroke-linejoin="round" stroke-linecap="round"/>
<rect x="493.6" y="547.8" width="13.6" height="16.4" fill="#a1279b"/>
<rect x="579.6" y="614.8" width="13.6" height="16.4" fill="#a1279b"/>
<rect x="664.2" y="675.8" width="13.6" height="16.4" fill="#a1279b"/>
<rect x="748.8" y="570.8" width="13.6" height="16.4" fill="#a1279b"/>
<polyline points="500.4,632 586.4,650 671,687 755.6,672" fill="none" stroke="#45a22a" stroke-width="4.0" stroke-linejoin="round" stroke-linecap="round"/>
<path d="M500.4 624.5L506.9 639.5L493.9 639.5Z" fill="#45a22a"/>
<path d="M586.4 642.5L592.9 657.5L579.9 657.5Z" fill="#45a22a"/>
<path d="M671 679.5L677.5 694.5L664.5 694.5Z" fill="#45a22a"/>
<path d="M755.6 664.5L762.1 679.5L749.1 679.5Z" fill="#45a22a"/>
<polyline points="500.4,620 586.4,640 671,668 755.6,560" fill="none" stroke="#163f5b" stroke-width="4.0" stroke-linejoin="round" stroke-linecap="round"/>
<path d="M495 613.1L505.8 626.9M505.8 613.1L495 626.9" stroke="#163f5b" stroke-width="1.7" fill="none"/>
<path d="M581 633.1L591.8 646.9M591.8 633.1L581 646.9" stroke="#163f5b" stroke-width="1.7" fill="none"/>
<path d="M665.6 661.1L676.4 674.9M676.4 661.1L665.6 674.9" stroke="#163f5b" stroke-width="1.7" fill="none"/>
<path d="M750.2 553.1L761 566.9M761 553.1L750.2 566.9" stroke="#163f5b" stroke-width="1.7" fill="none"/>
<polyline points="500.4,549.5 586.4,624 671,668 755.6,576" fill="none" stroke="#a24a15" stroke-width="4.0" stroke-linejoin="round" stroke-linecap="round"/>
<path d="M495 542.6L505.8 556.4M505.8 542.6L495 556.4M500.4 542.6L500.4 556.4" stroke="#a24a15" stroke-width="1.7" fill="none"/>
<path d="M581 617.1L591.8 630.9M591.8 617.1L581 630.9M586.4 617.1L586.4 630.9" stroke="#a24a15" stroke-width="1.7" fill="none"/>
<path d="M665.6 661.1L676.4 674.9M676.4 661.1L665.6 674.9M671 661.1L671 674.9" stroke="#a24a15" stroke-width="1.7" fill="none"/>
<path d="M750.2 569.1L761 582.9M761 569.1L750.2 582.9M755.6 569.1L755.6 582.9" stroke="#a24a15" stroke-width="1.7" fill="none"/>
<polyline points="500.4,618 586.4,659 671,672 755.6,650" fill="none" stroke="#134a1b" stroke-width="4.0" stroke-linejoin="round" stroke-linecap="round"/>
<ellipse cx="500.4" cy="618" rx="6.8" ry="8" fill="#134a1b"/>
<ellipse cx="586.4" cy="659" rx="6.8" ry="8" fill="#134a1b"/>
<ellipse cx="671" cy="672" rx="6.8" ry="8" fill="#134a1b"/>
<ellipse cx="755.6" cy="650" rx="6.8" ry="8" fill="#134a1b"/>
<polyline points="500.4,610 586.4,639 671,658 755.6,622" fill="none" stroke="#c00000" stroke-width="5.3" stroke-dasharray="12.5 21.5" stroke-linecap="round"/>
<rect x="495.6" y="603" width="9.6" height="14" rx="1" fill="none" stroke="#000" stroke-width="5.1"/>
<rect x="581.6" y="632" width="9.6" height="14" rx="1" fill="none" stroke="#000" stroke-width="5.1"/>
<rect x="666.2" y="651" width="9.6" height="14" rx="1" fill="none" stroke="#000" stroke-width="5.1"/>
<rect x="750.8" y="615" width="9.6" height="14" rx="1" fill="none" stroke="#000" stroke-width="5.1"/>
<path d="M500.4 549.5V718" stroke="#a8a8a8" stroke-width="2.1" fill="none" opacity="0.95"/>
<path d="M586.4 611V718" stroke="#a8a8a8" stroke-width="2.1" fill="none" opacity="0.95"/>
<path d="M671 610V718" stroke="#a8a8a8" stroke-width="2.1" fill="none" opacity="0.95"/>
<path d="M755.6 560V718" stroke="#a8a8a8" stroke-width="2.1" fill="none" opacity="0.95"/>
<text transform="translate(627.5 461.9) scale(1 1.2)" font-size="20.4" font-weight="bold" text-anchor="middle" fill="#000">TKW</text>
<text transform="translate(444 505) scale(1 1.2)" font-size="19.6" text-anchor="end" fill="#000">56</text>
<text transform="translate(442.5 575) scale(1 1.2)" font-size="19.6" text-anchor="end" fill="#000">48</text>
<text transform="translate(445 657) scale(1 1.2)" font-size="19.6" text-anchor="end" fill="#000">40</text>
<text transform="translate(445 727) scale(1 1.2)" font-size="19.6" text-anchor="end" fill="#000">32</text>
<text transform="translate(505 750) scale(1 1.22)" font-size="19.8" font-weight="bold" text-anchor="middle" fill="#000">F1</text>
<text transform="translate(585 750) scale(1 1.22)" font-size="19.8" font-weight="bold" text-anchor="middle" fill="#000">F2</text>
<text transform="translate(669.5 750) scale(1 1.22)" font-size="19.8" font-weight="bold" text-anchor="middle" fill="#000">F3</text>
<text transform="translate(746.5 750) scale(1 1.22)" font-size="19.8" font-weight="bold" text-anchor="middle" fill="#000">F4</text>
<path d="M813.5 496H863" stroke="#1d6187" stroke-width="4.0" stroke-linecap="round" fill="none"/>
<path d="M838.2 488.2L843.5 496L838.2 503.8L832.9 496Z" fill="#1d6187"/>
<text transform="translate(870 501) scale(1 1.15)" font-size="20.15" font-weight="bold" fill="#000">Arcanda</text>
<path d="M813.5 521.2H863" stroke="#ea722b" stroke-width="4.0" stroke-linecap="round" fill="none"/>
<path d="M838.2 513.4L843.5 521.2L838.2 529L832.9 521.2Z" fill="#ea722b"/>
<text transform="translate(870 528.1) scale(1 1.15)" font-size="20.15" font-weight="bold" fill="#000">Alena</text>
<path d="M813.5 546.4H863" stroke="#1a6b27" stroke-width="4.0" stroke-linecap="round" fill="none"/>
<path d="M838.2 538.6L843.5 546.4L838.2 554.2L832.9 546.4Z" fill="#1a6b27"/>
<text transform="translate(870 552.7) scale(1 1.15)" font-size="20.15" font-weight="bold" fill="#000">Asparuh</text>
<path d="M813.5 571.6H863" stroke="#1d9bd7" stroke-width="4.0" stroke-linecap="round" fill="none"/>
<path d="M838.2 563.8L843.5 571.6L838.2 579.4L832.9 571.6Z" fill="#1d9bd7"/>
<text transform="translate(870 580) scale(1 1.15)" font-size="20.15" font-weight="bold" fill="#000">Arcanda/Alena</text>
<path d="M813.5 596.8H863" stroke="#a1279b" stroke-width="4.0" stroke-linecap="round" fill="none"/>
<rect x="831.4" y="588.6" width="13.6" height="16.4" fill="#a1279b"/>
<text transform="translate(870 606.6) scale(1 1.15)" font-size="20.15" font-weight="bold" fill="#000">Arcanda/Asparuh</text>
<path d="M813.5 622H863" stroke="#45a22a" stroke-width="4.0" stroke-linecap="round" fill="none"/>
<path d="M838.2 614.5L844.7 629.5L831.7 629.5Z" fill="#45a22a"/>
<text transform="translate(870 633.3) scale(1 1.15)" font-size="20.15" font-weight="bold" fill="#000">Alena/Asparuh</text>
<path d="M813.5 647.2H863" stroke="#163f5b" stroke-width="4.0" stroke-linecap="round" fill="none"/>
<path d="M832.8 640.3L843.6 654.1M843.6 640.3L832.8 654.1" stroke="#163f5b" stroke-width="1.7" fill="none"/>
<text transform="translate(870 658.4) scale(1 1.15)" font-size="20.15" font-weight="bold" fill="#000">Alena/Arcanda</text>
<path d="M813.5 672.4H863" stroke="#a24a15" stroke-width="4.0" stroke-linecap="round" fill="none"/>
<path d="M832.8 665.5L843.6 679.3M843.6 665.5L832.8 679.3M838.2 665.5L838.2 679.3" stroke="#a24a15" stroke-width="1.7" fill="none"/>
<text transform="translate(870 685.3) scale(1 1.15)" font-size="20.15" font-weight="bold" fill="#000">Asparuh/Arcanda</text>
<path d="M813.5 697.6H863" stroke="#134a1b" stroke-width="4.0" stroke-linecap="round" fill="none"/>
<ellipse cx="838.2" cy="697.6" rx="6.8" ry="8" fill="#134a1b"/>
<text transform="translate(870 712.1) scale(1 1.15)" font-size="20.15" font-weight="bold" fill="#000">Asparuh/Alena</text>
<path d="M813.5 722.8H824.5M847.5 722.8H852.5" stroke="#c00000" stroke-width="4" stroke-linecap="round" fill="none"/>
<path d="M838 713.4L845.4 722.8L838 732.2L830.6 722.8Z" fill="#000"/>
<ellipse cx="838" cy="722.8" rx="2" ry="2.6" fill="#fff"/>
<ellipse cx="839" cy="722.8" rx="1" ry="2" fill="#d81818"/>
<text transform="translate(870 739.3) scale(1 1.15)" font-size="20.15" font-weight="bold" fill="#000">Mean</text>
<rect x="957.8" y="489.6" width="52.7" height="42.8" fill="#fff" stroke="#000" stroke-width="1.3"/>
<text transform="translate(982.5 517.8) scale(1 1.15)" font-size="20" font-weight="bold" text-anchor="middle" fill="#000">(d)</text>
</g>
<g>
<path d="M1177.05 496.3V742.4M1261.15 496.3V742.4M1345.25 496.3V742.4M1429.35 496.3V742.4" stroke="#e8e8e8" stroke-width="1.4" fill="none"/>
<path d="M1135 496.3V742.4M1219.1 496.3V742.4M1303.2 496.3V742.4M1387.3 496.3V742.4M1471.4 496.3V742.4" stroke="#d4d4d4" stroke-width="1.5" fill="none"/>
<path d="M1135 742.4H1471.4" stroke="#d4d4d4" stroke-width="1.8" fill="none"/>
<polyline points="1177.4,740.5 1261.4,694 1345.4,554 1429.4,556" fill="none" stroke="#1d6187" stroke-width="4.0" stroke-linejoin="round" stroke-linecap="round"/>
<path d="M1177.4 732.7L1182.7 740.5L1177.4 748.3L1172.1 740.5Z" fill="#1d6187"/>
<path d="M1261.4 686.2L1266.7 694L1261.4 701.8L1256.1 694Z" fill="#1d6187"/>
<path d="M1345.4 546.2L1350.7 554L1345.4 561.8L1340.1 554Z" fill="#1d6187"/>
<path d="M1429.4 548.2L1434.7 556L1429.4 563.8L1424.1 556Z" fill="#1d6187"/>
<polyline points="1177.4,740.5 1261.4,692 1345.4,560 1429.4,583" fill="none" stroke="#ea722b" stroke-width="4.0" stroke-linejoin="round" stroke-linecap="round"/>
<path d="M1177.4 732.7L1182.7 740.5L1177.4 748.3L1172.1 740.5Z" fill="#ea722b"/>
<path d="M1261.4 684.2L1266.7 692L1261.4 699.8L1256.1 692Z" fill="#ea722b"/>
<path d="M1345.4 552.2L1350.7 560L1345.4 567.8L1340.1 560Z" fill="#ea722b"/>
<path d="M1429.4 575.2L1434.7 583L1429.4 590.8L1424.1 583Z" fill="#ea722b"/>
<polyline points="1177.4,740.5 1261.4,698 1345.4,611 1429.4,616" fill="none" stroke="#1a6b27" stroke-width="4.0" stroke-linejoin="round" stroke-linecap="round"/>
<path d="M1177.4 732.7L1182.7 740.5L1177.4 748.3L1172.1 740.5Z" fill="#1a6b27"/>
<path d="M1261.4 690.2L1266.7 698L1261.4 705.8L1256.1 698Z" fill="#1a6b27"/>
<path d="M1345.4 603.2L1350.7 611L1345.4 618.8L1340.1 611Z" fill="#1a6b27"/>
<path d="M1429.4 608.2L1434.7 616L1429.4 623.8L1424.1 616Z" fill="#1a6b27"/>
<polyline points="1177.4,740.5 1261.4,694 1345.4,552 1429.4,538" fill="none" stroke="#1d9bd7" stroke-width="4.0" stroke-linejoin="round" stroke-linecap="round"/>
<path d="M1177.4 732.7L1182.7 740.5L1177.4 748.3L1172.1 740.5Z" fill="#1d9bd7"/>
<path d="M1261.4 686.2L1266.7 694L1261.4 701.8L1256.1 694Z" fill="#1d9bd7"/>
<path d="M1345.4 544.2L1350.7 552L1345.4 559.8L1340.1 552Z" fill="#1d9bd7"/>
<path d="M1429.4 530.2L1434.7 538L1429.4 545.8L1424.1 538Z" fill="#1d9bd7"/>
<polyline points="1177.4,738 1261.4,660 1345.4,533.5 1429.4,518" fill="none" stroke="#a1279b" stroke-width="4.0" stroke-linejoin="round" stroke-linecap="round"/>
<rect x="1170.6" y="729.8" width="13.6" height="16.4" fill="#a1279b"/>
<rect x="1254.6" y="651.8" width="13.6" height="16.4" fill="#a1279b"/>
<rect x="1338.6" y="525.3" width="13.6" height="16.4" fill="#a1279b"/>
<rect x="1422.6" y="509.8" width="13.6" height="16.4" fill="#a1279b"/>
<polyline points="1177.4,740.5 1261.4,693 1345.4,535 1429.4,570" fill="none" stroke="#45a22a" stroke-width="4.0" stroke-linejoin="round" stroke-linecap="round"/>
<path d="M1177.4 733L1183.9 748L1170.9 748Z" fill="#45a22a"/>
<path d="M1261.4 685.5L1267.9 700.5L1254.9 700.5Z" fill="#45a22a"/>
<path d="M1345.4 527.5L1351.9 542.5L1338.9 542.5Z" fill="#45a22a"/>
<path d="M1429.4 562.5L1435.9 577.5L1422.9 577.5Z" fill="#45a22a"/>
<polyline points="1177.4,740.5 1261.4,696 1345.4,556 1429.4,570" fill="none" stroke="#163f5b" stroke-width="4.0" stroke-linejoin="round" stroke-linecap="round"/>
<path d="M1172 733.6L1182.8 747.4M1182.8 733.6L1172 747.4" stroke="#163f5b" stroke-width="1.7" fill="none"/>
<path d="M1256 689.1L1266.8 702.9M1266.8 689.1L1256 702.9" stroke="#163f5b" stroke-width="1.7" fill="none"/>
<path d="M1340 549.1L1350.8 562.9M1350.8 549.1L1340 562.9" stroke="#163f5b" stroke-width="1.7" fill="none"/>
<path d="M1424 563.1L1434.8 576.9M1434.8 563.1L1424 576.9" stroke="#163f5b" stroke-width="1.7" fill="none"/>
<polyline points="1177.4,740.5 1261.4,692 1345.4,574 1429.4,542" fill="none" stroke="#a24a15" stroke-width="4.0" stroke-linejoin="round" stroke-linecap="round"/>
<path d="M1172 733.6L1182.8 747.4M1182.8 733.6L1172 747.4M1177.4 733.6L1177.4 747.4" stroke="#a24a15" stroke-width="1.7" fill="none"/>
<path d="M1256 685.1L1266.8 698.9M1266.8 685.1L1256 698.9M1261.4 685.1L1261.4 698.9" stroke="#a24a15" stroke-width="1.7" fill="none"/>
<path d="M1340 567.1L1350.8 580.9M1350.8 567.1L1340 580.9M1345.4 567.1L1345.4 580.9" stroke="#a24a15" stroke-width="1.7" fill="none"/>
<path d="M1424 535.1L1434.8 548.9M1434.8 535.1L1424 548.9M1429.4 535.1L1429.4 548.9" stroke="#a24a15" stroke-width="1.7" fill="none"/>
<polyline points="1177.4,741.5 1261.4,694 1345.4,550 1429.4,533" fill="none" stroke="#134a1b" stroke-width="4.0" stroke-linejoin="round" stroke-linecap="round"/>
<ellipse cx="1177.4" cy="741.5" rx="6.8" ry="8" fill="#134a1b"/>
<ellipse cx="1261.4" cy="694" rx="6.8" ry="8" fill="#134a1b"/>
<ellipse cx="1345.4" cy="550" rx="6.8" ry="8" fill="#134a1b"/>
<ellipse cx="1429.4" cy="533" rx="6.8" ry="8" fill="#134a1b"/>
<polyline points="1177.4,740.5 1261.4,687.5 1345.4,557 1429.4,557" fill="none" stroke="#c00000" stroke-width="5.3" stroke-dasharray="11 19" stroke-linecap="round"/>
<rect x="1172.6" y="733.5" width="9.6" height="14" rx="1" fill="none" stroke="#000" stroke-width="5.1"/>
<rect x="1256.6" y="680.5" width="9.6" height="14" rx="1" fill="none" stroke="#000" stroke-width="5.1"/>
<rect x="1340.6" y="550" width="9.6" height="14" rx="1" fill="none" stroke="#000" stroke-width="5.1"/>
<rect x="1424.6" y="550" width="9.6" height="14" rx="1" fill="none" stroke="#000" stroke-width="5.1"/>
<path d="M1261.4 660V742.4" stroke="#a8a8a8" stroke-width="1.6" fill="none" opacity="0.95"/>
<path d="M1345.4 533.5V742.4" stroke="#a8a8a8" stroke-width="1.6" fill="none" opacity="0.95"/>
<path d="M1429.4 518V742.4" stroke="#a8a8a8" stroke-width="1.6" fill="none" opacity="0.95"/>
<text transform="translate(1291 478) scale(1 1.2)" font-size="20.4" font-weight="bold" text-anchor="middle" fill="#000">GY</text>
<text transform="translate(1121.5 526.8) scale(1 1.2)" font-size="19.6" text-anchor="end" fill="#000">10000</text>
<text transform="translate(1120 581.7) scale(1 1.2)" font-size="19.6" text-anchor="end" fill="#000">7500</text>
<text transform="translate(1120.5 631.8) scale(1 1.2)" font-size="19.6" text-anchor="end" fill="#000">5000</text>
<text transform="translate(1120.5 683.6) scale(1 1.2)" font-size="19.6" text-anchor="end" fill="#000">2500</text>
<text transform="translate(1115 746.6) scale(1 1.2)" font-size="19.6" text-anchor="end" fill="#000">0</text>
<text transform="translate(1178 780) scale(1 1.22)" font-size="19.8" font-weight="bold" text-anchor="middle" fill="#000">F1</text>
<text transform="translate(1258 780) scale(1 1.22)" font-size="19.8" font-weight="bold" text-anchor="middle" fill="#000">F2</text>
<text transform="translate(1342.5 780) scale(1 1.22)" font-size="19.8" font-weight="bold" text-anchor="middle" fill="#000">F3</text>
<text transform="translate(1419.5 780) scale(1 1.22)" font-size="19.8" font-weight="bold" text-anchor="middle" fill="#000">F4</text>
<path d="M1491.5 498H1541" stroke="#1d6187" stroke-width="4.0" stroke-linecap="round" fill="none"/>
<path d="M1516.2 490.2L1521.5 498L1516.2 505.8L1510.9 498Z" fill="#1d6187"/>
<text transform="translate(1548 502.65) scale(1 1.15)" font-size="20.15" font-weight="bold" fill="#000">Arcanda</text>
<path d="M1491.5 523.2H1541" stroke="#ea722b" stroke-width="4.0" stroke-linecap="round" fill="none"/>
<path d="M1516.2 515.4L1521.5 523.2L1516.2 531L1510.9 523.2Z" fill="#ea722b"/>
<text transform="translate(1548 529.75) scale(1 1.15)" font-size="20.15" font-weight="bold" fill="#000">Alena</text>
<path d="M1491.5 548.4H1541" stroke="#1a6b27" stroke-width="4.0" stroke-linecap="round" fill="none"/>
<path d="M1516.2 540.6L1521.5 548.4L1516.2 556.2L1510.9 548.4Z" fill="#1a6b27"/>
<text transform="translate(1548 554.35) scale(1 1.15)" font-size="20.15" font-weight="bold" fill="#000">Asparuh</text>
<path d="M1491.5 573.6H1541" stroke="#1d9bd7" stroke-width="4.0" stroke-linecap="round" fill="none"/>
<path d="M1516.2 565.8L1521.5 573.6L1516.2 581.4L1510.9 573.6Z" fill="#1d9bd7"/>
<text transform="translate(1548 581.65) scale(1 1.15)" font-size="20.15" font-weight="bold" fill="#000">Arcanda/Alena</text>
<path d="M1491.5 598.8H1541" stroke="#a1279b" stroke-width="4.0" stroke-linecap="round" fill="none"/>
<rect x="1509.4" y="590.6" width="13.6" height="16.4" fill="#a1279b"/>
<text transform="translate(1548 608.25) scale(1 1.15)" font-size="20.15" font-weight="bold" fill="#000">Arcanda/Asparuh</text>
<path d="M1491.5 624H1541" stroke="#45a22a" stroke-width="4.0" stroke-linecap="round" fill="none"/>
<path d="M1516.2 616.5L1522.7 631.5L1509.7 631.5Z" fill="#45a22a"/>
<text transform="translate(1548 634.95) scale(1 1.15)" font-size="20.15" font-weight="bold" fill="#000">Alena/Asparuh</text>
<path d="M1491.5 649.2H1541" stroke="#163f5b" stroke-width="4.0" stroke-linecap="round" fill="none"/>
<path d="M1510.8 642.3L1521.6 656.1M1521.6 642.3L1510.8 656.1" stroke="#163f5b" stroke-width="1.7" fill="none"/>
<text transform="translate(1548 660.05) scale(1 1.15)" font-size="20.15" font-weight="bold" fill="#000">Alena/Arcanda</text>
<path d="M1491.5 674.4H1541" stroke="#a24a15" stroke-width="4.0" stroke-linecap="round" fill="none"/>
<path d="M1510.8 667.5L1521.6 681.3M1521.6 667.5L1510.8 681.3M1516.2 667.5L1516.2 681.3" stroke="#a24a15" stroke-width="1.7" fill="none"/>
<text transform="translate(1548 686.95) scale(1 1.15)" font-size="20.15" font-weight="bold" fill="#000">Asparuh/Arcanda</text>
<path d="M1491.5 699.6H1541" stroke="#134a1b" stroke-width="4.0" stroke-linecap="round" fill="none"/>
<ellipse cx="1516.2" cy="699.6" rx="6.8" ry="8" fill="#134a1b"/>
<text transform="translate(1548 713.75) scale(1 1.15)" font-size="20.15" font-weight="bold" fill="#000">Asparuh/Alena</text>
<path d="M1491.5 724.8H1502.5M1525.5 724.8H1530.5" stroke="#c00000" stroke-width="4" stroke-linecap="round" fill="none"/>
<path d="M1516 715.4L1523.4 724.8L1516 734.2L1508.6 724.8Z" fill="#000"/>
<ellipse cx="1516" cy="724.8" rx="2" ry="2.6" fill="#fff"/>
<ellipse cx="1517" cy="724.8" rx="1" ry="2" fill="#d81818"/>
<text transform="translate(1548 740.95) scale(1 1.15)" font-size="20.15" font-weight="bold" fill="#000">Mean</text>
<rect x="1635.2" y="491.5" width="53.3" height="42.8" fill="#fff" stroke="#000" stroke-width="1.3"/>
<text transform="translate(1662 519.1) scale(1 1.15)" font-size="20" font-weight="bold" text-anchor="middle" fill="#000">(e)</text>
</g>
<rect x="538.5" y="767" width="8" height="2.4" fill="#d9d9d9"/><rect x="1212" y="797.5" width="7" height="2.5" fill="#d9d9d9"/>
</g>
</svg>
</body>
</html>
